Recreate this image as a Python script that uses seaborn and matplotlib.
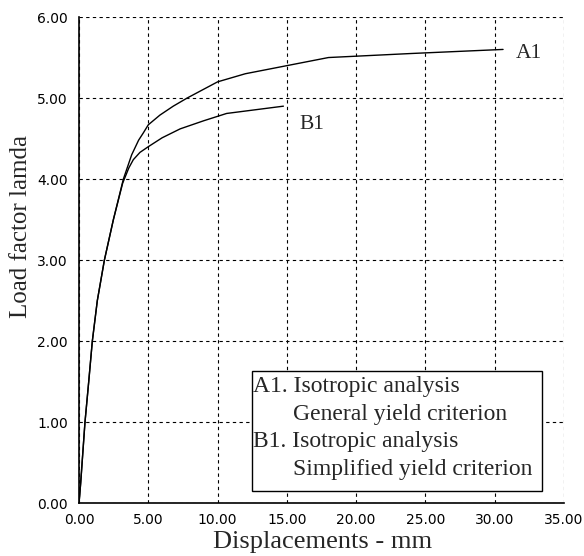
import matplotlib
matplotlib.use("Agg")
import matplotlib.pyplot as plt
import seaborn as sns
import pandas as pd
from matplotlib.patches import Rectangle

# Data
a1_x = [0, 0.12, 0.43, 0.7, 0.96, 1.32, 1.83, 2.48, 3.2, 3.8, 4.3, 4.64, 5.0, 5.84, 6.8, 7.8, 10.0, 12.0, 15.0, 18.0, 24.0, 30.6]
a1_y = [0, 0.25, 1.0, 1.5, 2.0, 2.5, 3.0, 3.5, 4.0, 4.3, 4.48, 4.57, 4.67, 4.79, 4.9, 5.0, 5.2, 5.3, 5.4, 5.5, 5.55, 5.6]
b1_x = [0, 0.12, 0.43, 0.7, 0.96, 1.32, 1.83, 2.48, 3.15, 3.6, 3.92, 4.4, 5.0, 6.0, 7.3, 9.0, 10.65, 14.75]
b1_y = [0, 0.25, 1.0, 1.5, 2.0, 2.5, 3.0, 3.5, 3.95, 4.14, 4.24, 4.33, 4.40, 4.51, 4.62, 4.72, 4.81, 4.90]
x_ticks = [0, 5, 10, 15, 20, 25, 30, 35]
y_ticks = [0, 1, 2, 3, 4, 5, 6]
legend_lines = ["A1. Isotropic analysis", "General yield criterion",
                "B1. Isotropic analysis", "Simplified yield criterion"]

sns.set_style("white")
plt.rcParams["font.family"] = ["DejaVu Sans"]

df = pd.concat([
    pd.DataFrame({"x": a1_x, "y": a1_y, "s": "A1"}),
    pd.DataFrame({"x": b1_x, "y": b1_y, "s": "B1"}),
])

fig = plt.figure(figsize=(5.84, 5.56), dpi=100)
ax = fig.add_axes([0.1353, 0.0948, 0.8305, 0.8746])
sns.lineplot(data=df, x="x", y="y", units="s", estimator=None, sort=False,
             color="black", lw=1.0, ax=ax, legend=False)

ax.set_xlim(0, 35)
ax.set_ylim(0, 6)
ax.set_xticks(x_ticks)
ax.set_yticks(y_ticks)
ax.set_xticklabels([f"{v:.2f}" for v in x_ticks], fontsize=10)
ax.set_yticklabels([f"{v:.2f}" for v in y_ticks], fontsize=10)
ax.tick_params(direction="in", length=4, width=1, colors="black")
ax.tick_params(axis="x", pad=7)
ax.tick_params(axis="y", pad=8)
ax.grid(True, color="black", linestyle=(0, (3, 3)), linewidth=0.8)
for s in ["top", "right"]:
    ax.spines[s].set_visible(False)
for s in ["left", "bottom"]:
    ax.spines[s].set_color("black")
    ax.spines[s].set_linewidth(1.2)

serif = ["Liberation Serif", "DejaVu Serif"]
ax.set_xlabel("Displacements - mm", family=serif, fontsize=19)
ax.set_ylabel("Load factor lamda", family=serif, fontsize=18)
ax.xaxis.set_label_coords(0.502, -0.092, transform=ax.transAxes)
ax.xaxis.label.set_va("baseline")
ax.yaxis.set_label_coords(-0.119, 0.57, transform=ax.transAxes)
ax.yaxis.label.set_va("center")

ax.text(31.55, 5.50, "A1", family=serif, fontsize=15.5, va="baseline", ha="left")
ax.text(15.9, 4.62, "B1", family=serif, fontsize=15.5, va="baseline", ha="left")

ax.add_patch(Rectangle((0.357, 0.025), 0.597, 0.247, transform=ax.transAxes,
                       facecolor="white", edgecolor="black", lw=1.0, zorder=5))
ys = [0.2295, 0.171, 0.1158, 0.058]
xs = [0.359, 0.442, 0.359, 0.442]
for t, xx, yy in zip(legend_lines, xs, ys):
    ax.text(xx, yy, t, transform=ax.transAxes, family=serif, fontsize=17,
            va="baseline", ha="left", zorder=6)

fig.savefig("out.png", dpi=100, facecolor="white")
